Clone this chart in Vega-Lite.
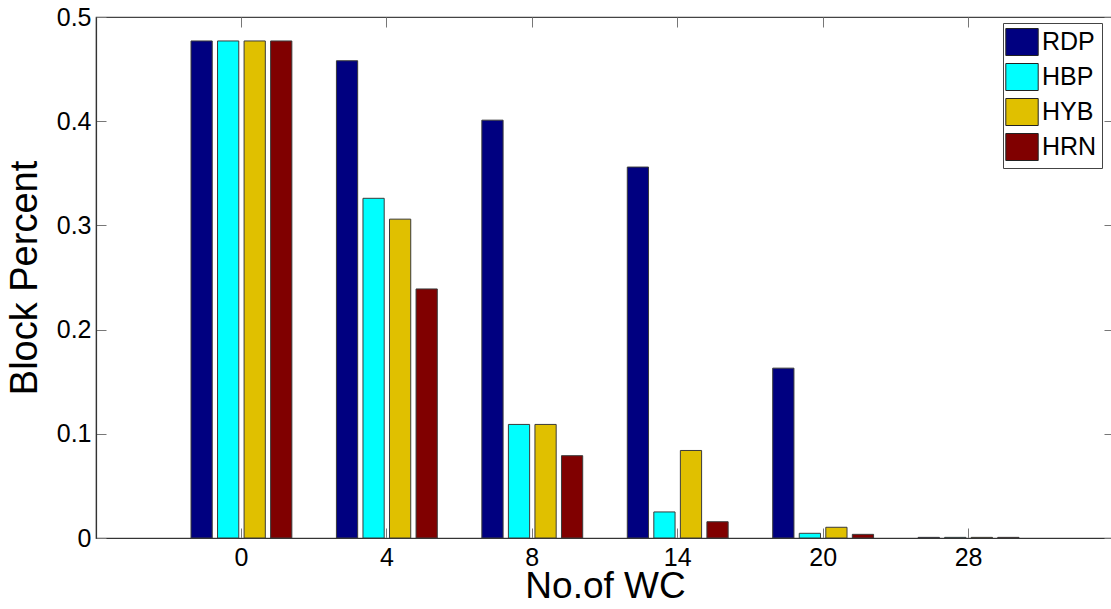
{
  "$schema": "https://vega.github.io/schema/vega-lite/v6.json",
  "autosize": {"type": "none"},
  "padding": {"left": 96, "top": 17, "right": 0, "bottom": 71},
  "width": 1018,
  "height": 521,
  "background": "white",
  "config": {
    "view": {"stroke": "#444", "strokeWidth": 1.2},
    "font": "Liberation Sans",
    "axis": {"grid": false, "domainColor": "#333", "tickColor": "#777", "labelColor": "#000", "titleColor": "#000", "labelFont": "Liberation Sans", "titleFont": "Liberation Sans", "titleFontWeight": "normal"}
  },
  "data": {
    "values": [
      {"wc": 0, "series": "RDP", "value": 0.477},
      {"wc": 0, "series": "HBP", "value": 0.477},
      {"wc": 0, "series": "HYB", "value": 0.477},
      {"wc": 0, "series": "HRN", "value": 0.477},
      {"wc": 4, "series": "RDP", "value": 0.458},
      {"wc": 4, "series": "HBP", "value": 0.326},
      {"wc": 4, "series": "HYB", "value": 0.306},
      {"wc": 4, "series": "HRN", "value": 0.239},
      {"wc": 8, "series": "RDP", "value": 0.401},
      {"wc": 8, "series": "HBP", "value": 0.109},
      {"wc": 8, "series": "HYB", "value": 0.109},
      {"wc": 8, "series": "HRN", "value": 0.079},
      {"wc": 14, "series": "RDP", "value": 0.356},
      {"wc": 14, "series": "HBP", "value": 0.025},
      {"wc": 14, "series": "HYB", "value": 0.084},
      {"wc": 14, "series": "HRN", "value": 0.0156},
      {"wc": 20, "series": "RDP", "value": 0.163},
      {"wc": 20, "series": "HBP", "value": 0.0045},
      {"wc": 20, "series": "HYB", "value": 0.0103},
      {"wc": 20, "series": "HRN", "value": 0.0035},
      {"wc": 28, "series": "RDP", "value": 0.0006},
      {"wc": 28, "series": "HBP", "value": 0.0006},
      {"wc": 28, "series": "HYB", "value": 0.0006},
      {"wc": 28, "series": "HRN", "value": 0.0006}
    ]
  },
  "layer": [
    {
      "mark": {"type": "bar", "stroke": "#3a3a3a", "strokeWidth": 1},
      "encoding": {
        "x": {
          "field": "wc", "type": "ordinal",
          "scale": {"paddingInner": 0.27, "paddingOuter": 0.635},
          "axis": {"title": "No.of WC", "labelAngle": 0, "labelFontSize": 25, "labelPadding": 17, "tickSize": -10, "titleFontSize": 37, "titlePadding": -2, "domainWidth": 1.2}
        },
        "xOffset": {
          "field": "series", "type": "nominal",
          "sort": ["RDP", "HBP", "HYB", "HRN"],
          "scale": {"paddingInner": 0.2, "paddingOuter": 0.1}
        },
        "y": {
          "field": "value", "type": "quantitative",
          "scale": {"domain": [0, 0.5], "nice": false},
          "axis": {"title": "Block Percent", "values": [0, 0.1, 0.2, 0.3, 0.4, 0.5], "format": ".1~f", "labelFontSize": 25, "labelPadding": 15, "tickSize": -10, "titleFontSize": 38, "titlePadding": 12, "domainWidth": 1.2}
        },
        "fill": {
          "field": "series", "type": "nominal",
          "sort": ["RDP", "HBP", "HYB", "HRN"],
          "scale": {"domain": ["RDP", "HBP", "HYB", "HRN"], "range": ["#000080", "#00ffff", "#e0c000", "#800000"]},
          "legend": {
            "title": null, "orient": "none", "legendX": 907, "legendY": 6,
            "symbolType": "M-1.2,-1H1.2V1H-1.2Z", "symbolSize": 729,
            "symbolStrokeColor": "#222", "symbolStrokeWidth": 1, "symbolOpacity": 1,
            "labelFontSize": 25, "labelFont": "Liberation Sans", "labelColor": "#000", "labelOffset": 6,
            "rowPadding": 3, "padding": 5, "strokeColor": "#444", "fillColor": "white"
          }
        }
      }
    },
    {
      "mark": {"type": "tick", "opacity": 0},
      "encoding": {
        "x": {"field": "wc", "type": "ordinal", "axis": {"orient": "top", "labels": false, "title": null, "tickSize": -10, "domain": false}},
        "y": {"field": "value", "type": "quantitative", "axis": {"orient": "right", "labels": false, "title": null, "values": [0, 0.1, 0.2, 0.3, 0.4, 0.5], "tickSize": -10, "domain": false}}
      }
    }
  ],
  "resolve": {"axis": {"x": "independent", "y": "independent"}}
}
